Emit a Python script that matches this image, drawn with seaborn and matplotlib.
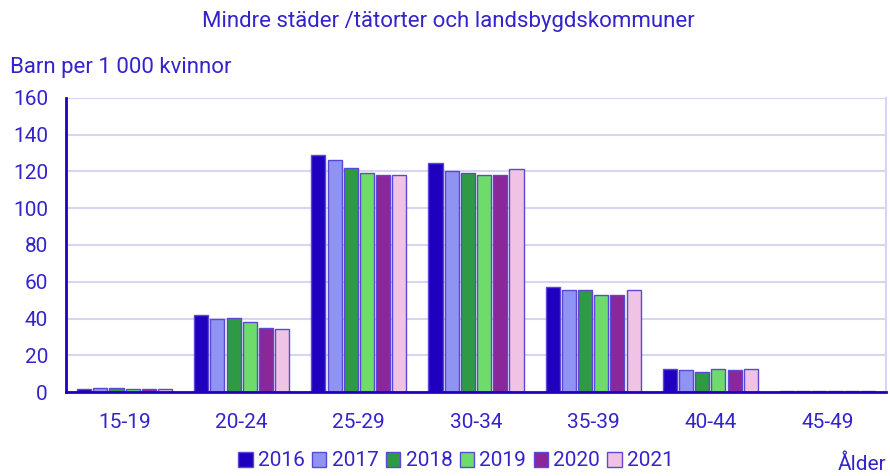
import matplotlib
matplotlib.use('Agg')
import matplotlib.pyplot as plt
import seaborn as sns
import pandas as pd

# data
age_groups = ['15-19', '20-24', '25-29', '30-34', '35-39', '40-44', '45-49']
years = ['2016', '2017', '2018', '2019', '2020', '2021']
v2016 = [1.4, 41.9, 129.2, 124.8, 57.3, 12.5, 0.5]
v2017 = [2.2, 39.7, 126.1, 120.5, 55.5, 11.8, 0.5]
v2018 = [2.2, 40.3, 121.9, 119.2, 55.5, 11.1, 0.5]
v2019 = [1.5, 38.3, 119.2, 118.0, 53.0, 12.5, 0.5]
v2020 = [1.5, 34.8, 117.9, 118.0, 53.0, 11.8, 0.5]
v2021 = [1.5, 34.1, 117.9, 121.2, 55.5, 12.5, 0.5]

colors = ['#1f00bf', '#8f94f2', '#2f9a45', '#6ddc6b', '#8b2899', '#efc2e6']
text_col = '#3424cc'
axis_col = '#1f00bf'
grid_col = '#d6d6f2'

rows = []
for yr, vals in zip(years, [v2016, v2017, v2018, v2019, v2020, v2021]):
    for ag, v in zip(age_groups, vals):
        rows.append({'Ålder': ag, 'År': yr, 'Värde': v})
df = pd.DataFrame(rows)

sns.set_style('white')
plt.rcParams['font.family'] = ['Roboto', 'DejaVu Sans']

fig = plt.figure(figsize=(8.9, 4.76), dpi=100)
ax = fig.add_axes([66 / 890, 84 / 476, 820 / 890, 294 / 476])

sns.barplot(data=df, x='Ålder', y='Värde', hue='År', palette=colors,
            saturation=1, width=0.83, gap=0.13, edgecolor='#5a48d6',
            linewidth=1.0, ax=ax, legend=True)

ax.set_ylim(0, 160)
ax.set_xlim(-0.5, len(age_groups) - 0.5)
ax.set_yticks(range(0, 161, 20))
ax.yaxis.grid(True, color=grid_col, linewidth=1.5)
ax.set_axisbelow(True)

ax.set_xlabel('')
ax.set_ylabel('')

# tick marks between the groups, labels in the middle
ax.set_xticks([i - 0.5 for i in range(len(age_groups) + 1)])
ax.set_xticklabels([])
ax.set_xticks(range(len(age_groups)), minor=True)
ax.set_xticklabels(age_groups, minor=True)
ax.tick_params(axis='x', which='major', length=7, width=1.5, color=axis_col, direction='out')
ax.tick_params(axis='x', which='minor', length=0, pad=15, labelsize=15, labelcolor=text_col)
ax.tick_params(axis='y', length=5, width=1.5, color=axis_col, pad=8, labelsize=15, labelcolor=text_col)

for side in ['left', 'bottom']:
    ax.spines[side].set_color(axis_col)
    ax.spines[side].set_linewidth(2)
ax.spines['top'].set_visible(False)
ax.spines['right'].set_color(grid_col)
ax.spines['right'].set_linewidth(1.5)

fig.text(448 / 890, 1 - 22 / 476, 'Mindre städer /tätorter och landsbygdskommuner',
         ha='center', va='center', fontsize=16, color=text_col)
fig.text(10 / 890, 1 - 67 / 476, 'Barn per 1 000 kvinnor',
         ha='left', va='center', fontsize=16, color=text_col)
fig.text(886 / 890, 1 - 464 / 476, 'Ålder',
         ha='right', va='center', fontsize=15, color=text_col)

handles, labels = ax.get_legend_handles_labels()
ax.legend(handles, labels, loc='center', bbox_to_anchor=(456 / 890, 1 - 461 / 476),
          bbox_transform=fig.transFigure, ncol=6, frameon=False,
          handlelength=0.7, handleheight=0.7, handletextpad=0.25,
          columnspacing=0.35, fontsize=15, labelcolor=text_col)

fig.savefig('out.png', dpi=100)
